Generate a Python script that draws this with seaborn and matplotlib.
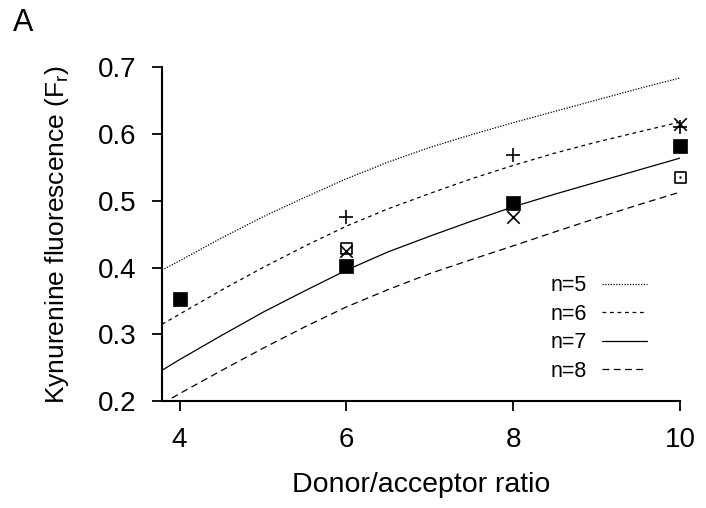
import seaborn as sns
import matplotlib.pyplot as plt
import pandas as pd

# curvas teóricas (F_r frente a la razón donante/aceptor)
curve_x = [3.79, 4, 4.5, 5, 5.5, 6, 6.5, 7, 7.5, 8, 8.5, 9, 9.5, 10]
fr_n5 = [0.396, 0.410, 0.444, 0.476, 0.505, 0.533, 0.558, 0.580, 0.599, 0.617, 0.634, 0.651, 0.668, 0.684]
fr_n6 = [0.315, 0.330, 0.366, 0.400, 0.432, 0.462, 0.488, 0.511, 0.533, 0.553, 0.5715, 0.588, 0.603, 0.618]
fr_n7 = [0.246, 0.262, 0.298, 0.333, 0.365, 0.396, 0.4235, 0.447, 0.4695, 0.491, 0.510, 0.528, 0.546, 0.564]
fr_n8 = [0.196, 0.211, 0.2455, 0.279, 0.311, 0.341, 0.367, 0.391, 0.412, 0.4325, 0.4535, 0.474, 0.494, 0.513]

# puntos experimentales
filled_x = [4, 6, 8, 10]
filled_y = [0.353, 0.403, 0.497, 0.582]
open_x = [6, 10]
open_y = [0.429, 0.535]
dot_x = [10]
dot_y = [0.535]
plus_x = [6, 8, 10]
plus_y = [0.475, 0.568, 0.610]
cross_x = [6, 8, 10]
cross_y = [0.425, 0.476, 0.615]

sns.set_style("ticks")
plt.rcParams['font.family'] = ['Liberation Sans', 'DejaVu Sans']
plt.rcParams['mathtext.fontset'] = 'custom'
plt.rcParams['mathtext.rm'] = 'Liberation Sans'
plt.rcParams['text.color'] = 'black'
plt.rcParams['axes.labelcolor'] = 'black'
plt.rcParams['xtick.color'] = 'black'
plt.rcParams['ytick.color'] = 'black'

fig = plt.figure(figsize=(7.06, 5.08), dpi=100)
ax = fig.add_axes([0.2295, 0.2106, 0.734, 0.657])

curves = [("n=5", fr_n5, (0, (1, 1.2))),
          ("n=6", fr_n6, (0, (3, 3))),
          ("n=7", fr_n7, "-"),
          ("n=8", fr_n8, (0, (5.5, 3.5)))]
for label, vals, ls in curves:
    df = pd.DataFrame({"x": curve_x, "y": vals})
    sns.lineplot(data=df, x="x", y="y", ax=ax, color="black", lw=0.9,
                 linestyle=ls, label=label)

sns.scatterplot(x=filled_x, y=filled_y, ax=ax, marker="s", s=90, color="black",
                edgecolor="black", linewidth=0.5, clip_on=False, zorder=3)
sns.scatterplot(x=open_x, y=open_y, ax=ax, marker="s", s=65, facecolor="none",
                edgecolor="black", linewidth=1.2, clip_on=False, zorder=3)
sns.scatterplot(x=dot_x, y=dot_y, ax=ax, marker="o", s=3, color="black",
                linewidth=0, clip_on=False, zorder=3)
sns.scatterplot(x=plus_x, y=plus_y, ax=ax, marker="+", s=110, color="black",
                linewidth=1.2, clip_on=False, zorder=3)
sns.scatterplot(x=cross_x, y=cross_y, ax=ax, marker="x", s=80, color="black",
                linewidth=1.2, clip_on=False, zorder=3)

ax.set_xlim(3.79, 10)
ax.set_ylim(0.2, 0.7)
ax.set_xticks([4, 6, 8, 10])
ax.set_yticks([0.2, 0.3, 0.4, 0.5, 0.6, 0.7])
ax.set_yticklabels(["0.2", "0.3", "0.4", "0.5", "0.6", "0.7"])
ax.tick_params(labelsize=20, length=7.5, width=1.3, pad=11)
for side in ["top", "right"]:
    ax.spines[side].set_visible(False)
for side in ["left", "bottom"]:
    ax.spines[side].set_linewidth(1.5)
    ax.spines[side].set_color("black")

ax.set_xlabel("Donor/acceptor ratio", fontsize=20.5, labelpad=14)
ax.set_ylabel(r"Kynurenine fluorescence (F$_\mathregular{r}$)", fontsize=19, labelpad=19)

ax.legend(loc="center right", bbox_to_anchor=(0.936, 0.217), frameon=False,
          markerfirst=False, fontsize=15.5, handlelength=2.1, labelspacing=0.35,
          handletextpad=0.7, borderpad=0, borderaxespad=0)

fig.text(0.018, 0.985, "A", fontsize=22, va="top", ha="left")

plt.savefig("out.png", dpi=100)
